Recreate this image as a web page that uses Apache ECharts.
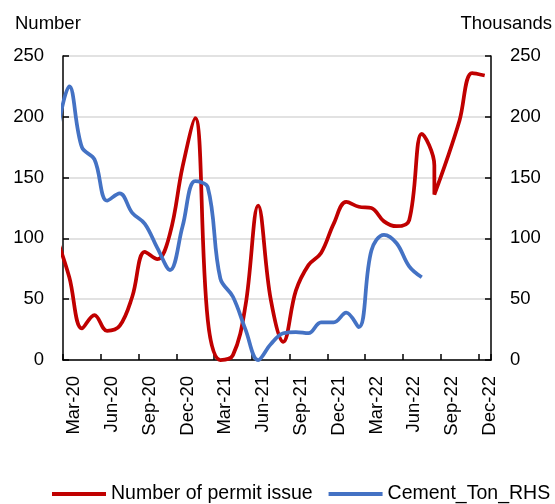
<!DOCTYPE html>
<html>
<head>
<meta charset="utf-8">
<script src="https://cdn.jsdelivr.net/npm/echarts@6/dist/echarts.min.js"></script>
<style>
  html, body { margin: 0; padding: 0; background: #fff; }
  #chart { width: 555px; height: 504px; }
</style>
</head>
<body>
<div id="chart"></div>
<script>
// Month categories shown on the horizontal axis (one slot per month)
const monthLabels = [
  'Mar-20', 'Apr-20', 'May-20', 'Jun-20', 'Jul-20', 'Aug-20', 'Sep-20', 'Oct-20', 'Nov-20', 'Dec-20',
  'Jan-21', 'Feb-21', 'Mar-21', 'Apr-21', 'May-21', 'Jun-21', 'Jul-21', 'Aug-21', 'Sep-21', 'Oct-21',
  'Nov-21', 'Dec-21', 'Jan-22', 'Feb-22', 'Mar-22', 'Apr-22', 'May-22', 'Jun-22', 'Jul-22', 'Aug-22',
  'Sep-22', 'Oct-22', 'Nov-22', 'Dec-22'
];

// Number of permits issued (left axis)
const permitMonths = [
  'Feb-20', 'Mar-20', 'Apr-20', 'May-20', 'Jun-20', 'Jul-20', 'Aug-20', 'Sep-20', 'Oct-20', 'Nov-20',
  'Dec-20', 'Jan-21', 'Feb-21', 'Mar-21', 'Apr-21', 'May-21', 'Jun-21', 'Jul-21', 'Aug-21', 'Sep-21',
  'Oct-21', 'Nov-21', 'Dec-21', 'Jan-22', 'Feb-22', 'Mar-22', 'Apr-22', 'May-22', 'Jun-22', 'Jul-22',
  'Aug-22', 'Aug-22', 'Sep-22', 'Oct-22', 'Nov-22', 'Dec-22'
];
const permitValues = [
  100, 68, 26, 37, 24, 28, 52, 89, 83, 104,
  159, 199, 33, 0, 4, 45, 127, 50, 15, 57,
  78, 88, 112, 130, 126, 125, 114, 110, 115, 186,
  160, 136, 165, 197, 236, 234
];

// Cement volume in thousand tons (right axis)
const cementMonths = [
  'Feb-20', 'Mar-20', 'Apr-20', 'May-20', 'Jun-20', 'Jul-20', 'Aug-20', 'Sep-20', 'Oct-20', 'Nov-20',
  'Dec-20', 'Jan-21', 'Feb-21', 'Mar-21', 'Apr-21', 'May-21', 'Jun-21', 'Jul-21', 'Aug-21', 'Sep-21',
  'Oct-21', 'Nov-21', 'Dec-21', 'Jan-22', 'Feb-22', 'Mar-22', 'Apr-22', 'May-22', 'Jun-22', 'Jul-22'
];
const cementValues = [
  185, 225, 175, 165, 131, 137, 121, 112, 92, 74,
  110, 147, 142, 67, 52, 25, 0, 13, 22, 23,
  22, 31, 31, 39, 27, 90, 103, 96, 77, 68
];

// Both value axes share the same tick labels
const valueTicks = [0, 50, 100, 150, 200, 250];

const MONTH_NAMES = ['Jan', 'Feb', 'Mar', 'Apr', 'May', 'Jun', 'Jul', 'Aug', 'Sep', 'Oct', 'Nov', 'Dec'];
// Position on the month scale: middle of the month, Mar-20 slot starts at 0
function monthPos(label) {
  const [mon, yy] = label.split('-');
  return (Number(yy) - 20) * 12 + MONTH_NAMES.indexOf(mon) - 2 + 0.5;
}

const FONT = 'Liberation Sans';
const RED = '#C00000';
const BLUE = '#4472C4';

const axisLineStyle = { color: '#000', width: 1.5 };

const chart = echarts.init(document.getElementById('chart'), null, { renderer: 'canvas' });
chart.setOption({
  animation: false,
  backgroundColor: '#fff',
  textStyle: { fontFamily: FONT },
  grid: [
    { left: 63, right: 64, top: 56, bottom: 144 },
    { left: 68, right: 59, top: 56, bottom: 144 }
  ],
  xAxis: [
    {
      type: 'value', gridIndex: 0, min: 0, max: monthLabels.length, interval: 3, position: 'bottom',
      axisLine: { show: true, lineStyle: axisLineStyle },
      axisTick: { show: true, inside: true, length: 6, lineStyle: axisLineStyle },
      axisLabel: { show: false },
      splitLine: { show: false }
    },
    {
      type: 'category', gridIndex: 1, data: monthLabels, boundaryGap: true, position: 'bottom',
      axisLine: { show: false }, axisTick: { show: false }, splitLine: { show: false },
      axisLabel: { interval: 2, rotate: 90, margin: 16, fontSize: 18.5, color: '#000', fontFamily: FONT }
    }
  ],
  yAxis: [
    {
      type: 'value', gridIndex: 0, position: 'left',
      min: valueTicks[0], max: valueTicks[valueTicks.length - 1], interval: valueTicks[1] - valueTicks[0],
      axisLine: { show: true, lineStyle: axisLineStyle },
      axisTick: { show: true, inside: true, length: 6, lineStyle: axisLineStyle },
      axisLabel: { margin: 19, fontSize: 18.5, color: '#000', fontFamily: FONT },
      splitLine: { show: true, lineStyle: { color: '#d9d9d9', width: 1.5 } }
    },
    {
      type: 'value', gridIndex: 0, position: 'right',
      min: valueTicks[0], max: valueTicks[valueTicks.length - 1], interval: valueTicks[1] - valueTicks[0],
      axisLine: { show: true, lineStyle: axisLineStyle },
      axisTick: { show: true, inside: true, length: 6, lineStyle: axisLineStyle },
      axisLabel: { margin: 19, fontSize: 18.5, color: '#000', fontFamily: FONT },
      splitLine: { show: false }
    },
    { type: 'value', gridIndex: 1, show: false }
  ],
  legend: {
    left: 52, top: 484, padding: 0, width: 503, itemWidth: 54, itemHeight: 4, itemGap: 16, icon: 'rect',
    textStyle: { fontSize: 19.5, color: '#000', fontFamily: FONT },
    data: ['Number of permit issue', 'Cement_Ton_RHS']
  },
  graphic: [
    { type: 'text', left: 15, top: 14, style: { text: 'Number', font: `18.5px "${FONT}"`, fill: '#000' } },
    { type: 'text', right: 3, top: 14, style: { text: 'Thousands', font: `18.5px "${FONT}"`, fill: '#000' } }
  ],
  series: [
    {
      name: 'Number of permit issue', type: 'line', xAxisIndex: 0, yAxisIndex: 0,
      data: permitMonths.map((m, i) => [monthPos(m), permitValues[i]]),
      smooth: 0.38, symbol: 'none', clip: true,
      lineStyle: { color: RED, width: 3.75 }, itemStyle: { color: RED }
    },
    {
      name: 'Cement_Ton_RHS', type: 'line', xAxisIndex: 0, yAxisIndex: 1,
      data: cementMonths.map((m, i) => [monthPos(m), cementValues[i]]),
      smooth: 0.38, symbol: 'none', clip: true,
      lineStyle: { color: BLUE, width: 3.75 }, itemStyle: { color: BLUE }
    }
  ]
});
</script>
</body>
</html>
